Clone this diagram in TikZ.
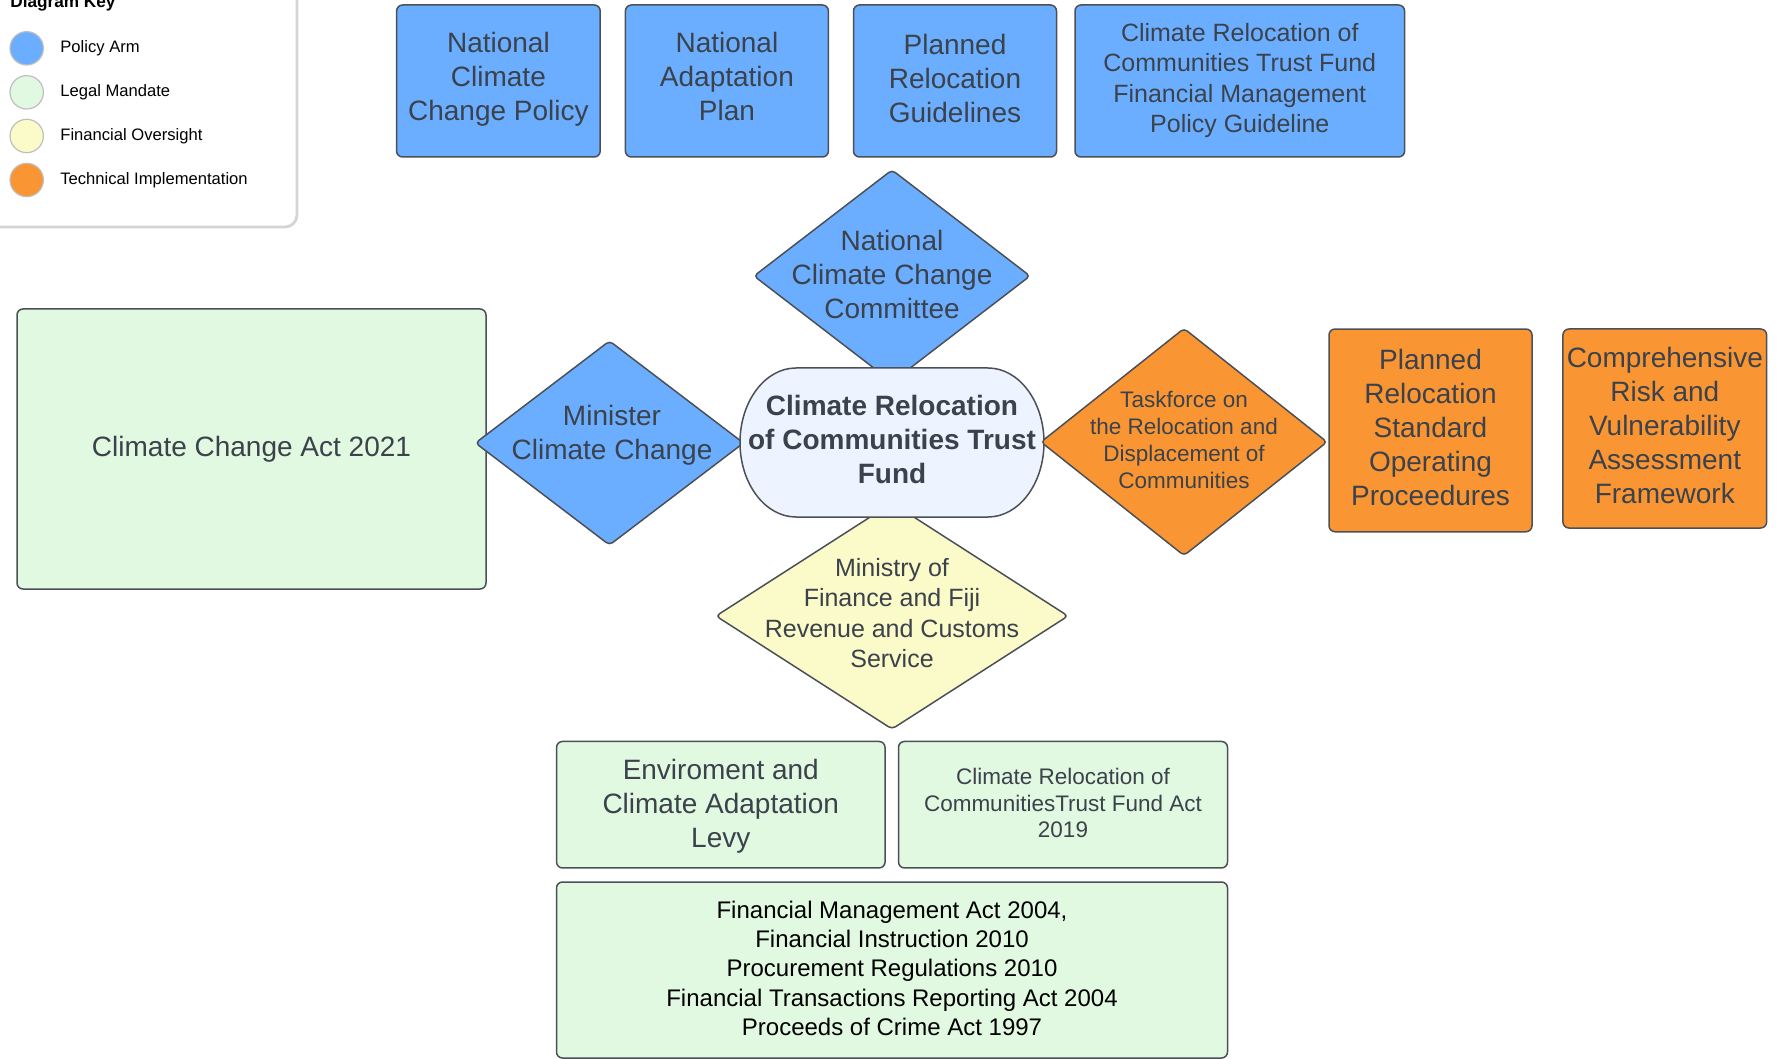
\documentclass[tikz,border=0pt]{standalone}
\usepackage{fontspec}
\setmainfont{Liberation Sans}
\usetikzlibrary{shapes.geometric}
\definecolor{polblue}{HTML}{6BAEFF}
\definecolor{legal}{HTML}{E1F8E1}
\definecolor{finy}{HTML}{FBFAC9}
\definecolor{techor}{HTML}{F99533}
\definecolor{fundbg}{HTML}{EDF4FF}
\definecolor{edge}{HTML}{4B5057}
\definecolor{ink}{HTML}{3B424B}
\definecolor{keyline}{HTML}{D4D4D4}
\begin{document}
\begin{tikzpicture}[x=0.5pt,y=-0.5pt,
  box/.style={draw=edge, line width=0.75pt, rounded corners=3pt, inner sep=0pt, outer sep=0pt},
  dia/.style={draw=edge, line width=0.75pt, diamond, rounded corners=2pt, inner sep=0pt, outer sep=0pt},
  tA/.style={text=ink, align=center, inner sep=0pt, font=\fontsize{14}{17}\selectfont},
  tB/.style={text=ink, align=center, inner sep=0pt, font=\fontsize{12.5}{15.2}\selectfont},
  tC/.style={text=ink, align=center, inner sep=0pt, font=\fontsize{11.25}{13.4}\selectfont},
  tD/.style={text=black, align=center, inner sep=0pt, font=\fontsize{12}{14.6}\selectfont},
  keydot/.style={circle, draw=black!25, line width=0.6pt, minimum size=16.7pt, inner sep=0pt},
  keytxt/.style={anchor=west, inner sep=0pt, text=black, font=\fontsize{8.3}{10}\selectfont}]
\useasboundingbox (0,0) rectangle (1790,1059);
% legend
\draw[draw=keyline, line width=1.4pt, fill=white, rounded corners=6pt] (-40,-40) rectangle (297,227);
\node[anchor=base west, inner sep=0pt, font=\bfseries\fontsize{8.6}{10}\selectfont] (keytitle) at (10,8) {Diagram Key};
\node[keydot, fill=polblue] (k1) at (26.7,48.3) {};
\node[keydot, fill=legal] (k2) at (26.7,92.3) {};
\node[keydot, fill=finy] (k3) at (26.7,136) {};
\node[keydot, fill=techor] (k4) at (26.7,180) {};
\node[keytxt] (k1t) at (60,48.3) {Policy Arm};
\node[keytxt] (k2t) at (60,92.3) {Legal Mandate};
\node[keytxt] (k3t) at (60,136) {Financial Oversight};
\node[keytxt] (k4t) at (60,180) {Technical Implementation};
% top boxes
\node[box, fill=polblue, minimum width=101.8pt, minimum height=76pt] (ncp) at (498.4,81) {};
\node[tA] (ncpt) at (498.4,79) {National\\Climate\\Change Policy};
\node[box, fill=polblue, minimum width=101.5pt, minimum height=76pt] (nap) at (726.9,81) {};
\node[tA] (napt) at (726.9,76) {National\\Adaptation\\Plan};
\node[box, fill=polblue, minimum width=101.5pt, minimum height=76pt] (prg) at (955,81) {};
\node[tA] (prgt) at (955,78) {Planned\\Relocation\\Guidelines};
\node[box, fill=polblue, minimum width=164.8pt, minimum height=76pt] (pol) at (1239.8,81) {};
\node[tB] (polt) at (1239.8,80.5) {Climate Relocation of\\Communities Trust Fund\\Financial Management\\Policy Guideline};
% left
\node[box, fill=legal, minimum width=234.5pt, minimum height=140pt] (cca) at (251.5,449) {};
\node[tA] (ccat) at (251.5,449.2) {Climate Change Act 2021};
\node[dia, fill=polblue, minimum width=134pt, minimum height=102pt] (min) at (609.5,443) {};
\node[tA] (mint) at (612,435.2) {Minister\\Climate Change};
% centre diamonds
\node[dia, fill=polblue, minimum width=138pt, minimum height=106pt] (nccc) at (892,276) {};
\node[tA] (nccct) at (892,274) {National\\Climate Change\\Committee};
\node[dia, fill=finy, minimum width=176pt, minimum height=113pt] (mof) at (892,616) {};
\node[tB] (moft) at (892,613) {Ministry of\\Finance and Fiji\\Revenue and Customs\\Service};
% central fund
\draw[draw=edge, line width=0.75pt, fill=fundbg]
  (796,368) -- (988,368) .. controls (1018.9,368) and (1044,401.4) .. (1044,442.5)
  .. controls (1044,483.6) and (1018.9,517) .. (988,517) -- (796,517)
  .. controls (765.1,517) and (740,483.6) .. (740,442.5)
  .. controls (740,401.4) and (765.1,368) .. (796,368) -- cycle;
\node[tA, font=\bfseries\fontsize{14}{17}\selectfont] (fund) at (892,439) {Climate Relocation\\of Communities Trust\\Fund};
% right
\node[dia, fill=techor, minimum width=143pt, minimum height=113.5pt] (task) at (1184,442) {};
\node[tC] (taskt) at (1184,440) {Taskforce on\\the Relocation and\\Displacement of\\Communities};
\node[box, fill=techor, minimum width=101.5pt, minimum height=101.35pt] (sop) at (1430.5,430.4) {};
\node[tA] (sopt) at (1430.5,427.5) {Planned\\Relocation\\Standard\\Operating\\Proceedures};
\node[box, fill=techor, minimum width=101.85pt, minimum height=99.5pt] (crv) at (1664.8,428.5) {};
\node[tA] (crvt) at (1664.8,425.5) {Comprehensive\\Risk and\\Vulnerability\\Assessment\\Framework};
% bottom
\node[box, fill=legal, minimum width=164.25pt, minimum height=63.25pt] (levy) at (720.8,804.7) {};
\node[tA] (levyt) at (720.8,806.5) {Enviroment and\\Climate Adaptation\\Levy};
\node[box, fill=legal, minimum width=164.5pt, minimum height=63.25pt] (act19) at (1063,804.7) {};
\node[tC] (act19t) at (1063,803) {Climate Relocation of\\CommunitiesTrust Fund Act\\2019};
\node[box, fill=legal, minimum width=335.5pt, minimum height=88pt] (fin) at (892,970) {};
\node[tD] (fint) at (892,968.3) {Financial Management Act 2004,\\Financial Instruction 2010\\Procurement Regulations 2010\\Financial Transactions Reporting Act 2004\\Proceeds of Crime Act 1997};
\end{tikzpicture}
\end{document}
